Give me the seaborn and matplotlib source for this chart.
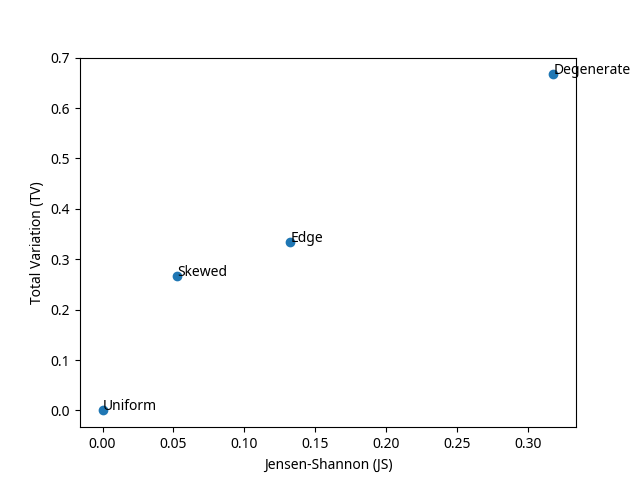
import matplotlib
matplotlib.use("Agg")
import matplotlib.pyplot as plt
import seaborn as sns
import pandas as pd

# distribution names and their divergence scores
names = ["Uniform", "Skewed", "Edge", "Degenerate"]
js_vals = [0.0, 0.0525, 0.1325, 0.318]
tv_vals = [0.0, 0.2667, 0.3333, 0.6667]

plt.rcParams['font.family'] = ['Noto Sans', 'DejaVu Sans']

df = pd.DataFrame({"js": js_vals, "tv": tv_vals, "name": names})

fig, ax = plt.subplots(figsize=(6.4, 4.8), dpi=100)
sns.scatterplot(data=df, x="js", y="tv", ax=ax, color="#1f77b4", s=36,
                linewidth=1.0, edgecolor="face")

# label each point
for n, x, y in zip(names, js_vals, tv_vals):
    ax.annotate(n, (x, y))

ax.set_xlabel("Jensen-Shannon (JS)")
ax.set_ylabel("Total Variation (TV)")

fig.savefig("out.png")
